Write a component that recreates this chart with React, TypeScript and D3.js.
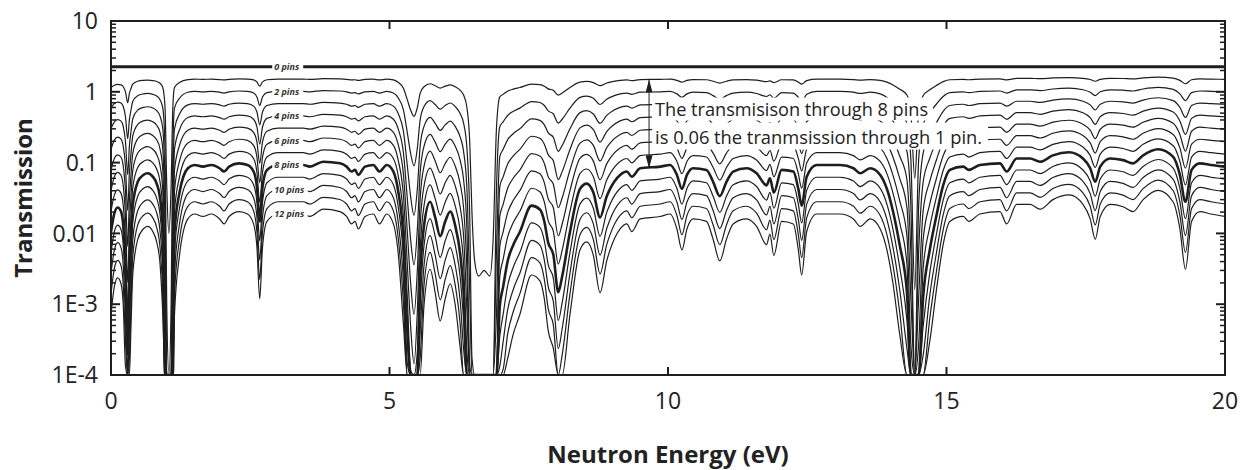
import * as d3 from "d3";

const energy = [
  0.0, 0.06, 0.12, 0.18, 0.22, 0.26, 0.3, 0.33, 0.36, 0.39, 0.48, 0.58, 0.66, 0.75, 0.82, 0.88, 0.93, 0.97,
  1.0, 1.04, 1.08, 1.11, 1.14, 1.23, 1.38, 1.5, 1.65, 1.8, 1.95, 2.03, 2.12, 2.3, 2.45, 2.56, 2.62, 2.67,
  2.72, 2.8, 3.0, 3.2, 3.45, 3.57, 3.81, 4.11, 4.23, 4.32, 4.38, 4.44, 4.56, 4.71, 4.82, 4.95, 5.07, 5.16,
  5.25, 5.32, 5.38, 5.44, 5.5, 5.55, 5.62, 5.73, 5.82, 5.91, 6.0, 6.09, 6.18, 6.27, 6.33, 6.39, 6.44, 6.48,
  6.53, 6.6, 6.7, 6.8, 6.86, 6.92, 6.98, 7.04, 7.12, 7.22, 7.34, 7.55, 7.7, 7.78, 7.85, 7.94, 8.03, 8.1,
  8.24, 8.42, 8.54, 8.66, 8.78, 8.9, 8.96, 9.14, 9.26, 9.35, 9.5, 9.86, 10.04, 10.16, 10.25, 10.34, 10.45,
  10.69, 10.81, 10.93, 11.05, 11.17, 11.41, 11.59, 11.77, 11.83, 11.9, 12.04, 12.25, 12.34, 12.4, 12.49,
  12.67, 13.09, 13.33, 13.45, 13.63, 13.81, 13.93, 14.04, 14.16, 14.29, 14.36, 14.43, 14.5, 14.58, 14.7,
  14.82, 14.94, 15.06, 15.3, 15.4, 15.6, 15.96, 16.08, 16.26, 16.5, 16.68, 16.91, 17.2, 17.45, 17.58,
  17.67, 17.76, 17.94, 18.17, 18.35, 18.53, 18.8, 19.07, 19.19, 19.29, 19.4, 19.55, 19.75, 20.0,
];

// transmission through 1 pin at those energies
const onePin = [
  1.15, 1.24, 1.27, 1.25, 1.18, 1.0, 0.7, 0.95, 1.12, 1.28, 1.41, 1.45, 1.46, 1.44, 1.4, 1.32, 1.15, 0.6,
  0.05, 0.01, 0.05, 0.6, 1.15, 1.35, 1.49, 1.51, 1.5, 1.51, 1.49, 1.47, 1.5, 1.52, 1.51, 1.47, 1.38, 1.2,
  1.38, 1.48, 1.51, 1.51, 1.51, 1.5, 1.53, 1.52, 1.5, 1.47, 1.48, 1.45, 1.5, 1.51, 1.47, 1.51, 1.47, 1.35,
  1.12, 0.77, 0.55, 0.45, 0.6, 0.95, 1.18, 1.3, 1.22, 1.13, 1.2, 1.25, 1.18, 1.05, 0.9, 0.6, 0.2, 0.02,
  0.004, 0.0025, 0.003, 0.0025, 0.008, 0.3, 0.85, 0.92, 1.02, 1.09, 1.15, 1.28, 1.26, 1.2, 1.1, 1.05, 0.9, 0.96,
  1.15, 1.37, 1.4, 1.35, 1.22, 1.33, 1.37, 1.45, 1.47, 1.44, 1.49, 1.5, 1.51, 1.45, 1.37, 1.45, 1.49,
  1.48, 1.41, 1.33, 1.41, 1.47, 1.49, 1.46, 1.39, 1.43, 1.35, 1.48, 1.47, 1.37, 1.28, 1.44,
  1.51, 1.51, 1.49, 1.46, 1.49, 1.45, 1.37, 1.25, 1.09, 0.9, 0.5, 0.06, 0.5, 0.88, 1.07,
  1.23, 1.39, 1.48, 1.5, 1.48, 1.51, 1.52, 1.47, 1.55, 1.55, 1.53, 1.57, 1.59, 1.55, 1.49,
  1.41, 1.5, 1.55, 1.54, 1.52, 1.57, 1.61, 1.56, 1.45, 1.3, 1.48, 1.52, 1.51, 1.5,
];

const openBeam = 2.25; // "0 pins" level
const pinCounts = [0, 1, 2, 3, 4, 5, 6, 7, 8, 9, 10, 11, 12];
const labelledPins = [0, 2, 4, 6, 8, 10, 12];
const xTicks = [0, 5, 10, 15, 20];
const yTicks = [10, 1, 0.1, 0.01, 1e-3, 1e-4];
const yTickLabels = ["10", "1", "0.1", "0.01", "1E-3", "1E-4"];
const noteLines = ["The transmisison through 8 pins", "is 0.06 the tranmsission through 1 pin."];

const W = 1250;
const H = 470;
const left = 111, right = 1225, top = 21, bottom = 375;
const font = "'Open Sans', 'Noto Sans', sans-serif";
const ink = "#1e1e1e";

// n pins in series: each pin multiplies by the single-pin ratio
const pinT = (n: number, i: number) => openBeam * Math.pow(onePin[i] / openBeam, n);
const nearest = (e: number) => d3.leastIndex(energy, (a) => Math.abs(a - e)) as number;

export default function App() {
  const x = d3.scaleLinear([0, 20], [left, right]);
  const y = d3.scaleLog([1e-4, 10], [bottom, top]);

  const line = (n: number) =>
    d3
      .line<number>()
      .x((i) => x(energy[i]))
      .y((i) => y(Math.max(pinT(n, i), 1e-4)))
      .curve(d3.curveMonotoneX)(energy.map((_, i) => i)) as string;

  // minor ticks of the log axis
  const minor: number[] = [];
  for (let d = -4; d < 1; d++) for (let k = 2; k <= 9; k++) minor.push(k * Math.pow(10, d));

  const labelE = 2.93;
  const li = nearest(3.15);

  const arrowE = 9.66;
  const ai = nearest(arrowE);
  const ax = x(arrowE);
  const ay1 = y(pinT(1, ai));
  const ay2 = y(pinT(8, ai));

  return (
    <svg width={W} height={H} style={{ position: "absolute", left: 0, top: 0, background: "#fff" }}>
      <defs>
        <clipPath id="plot">
          <rect x={left} y={top} width={right - left} height={bottom - top} />
        </clipPath>
        <marker id="tip" viewBox="0 0 13 7" refX={13} refY={3.5} markerWidth={13} markerHeight={7}
          markerUnits="userSpaceOnUse" orient="auto-start-reverse">
          <path d="M0,0 L13,3.5 L0,7 z" fill={ink} />
        </marker>
      </defs>

      <g clipPath="url(#plot)" fill="none" stroke={ink} strokeLinejoin="round">
        {pinCounts.map((n) => (
          <path key={n} d={line(n)} strokeWidth={n === 0 ? 3 : n === 8 ? 2.6 : 1.2} />
        ))}
      </g>

      {/* curve labels */}
      {labelledPins.map((n) => {
        const ty = y(pinT(n, li));
        const txt = `${n} pins`;
        return (
          <g key={n}>
            <rect x={x(labelE) - 2} y={ty - 5} width={txt.length * 4.5 + 4} height={10} fill="#fff" />
            <text x={x(labelE)} y={ty} dy="0.35em" fontFamily={font} fontSize={9} fontWeight="bold"
              fontStyle="italic" fill="#333">{txt}</text>
          </g>
        );
      })}

      {/* annotation */}
      <rect x={ax + 3} y={ay1 + 18} width={281} height={23} fill="#fff" />
      <rect x={ax + 3} y={ay1 + 43} width={336} height={27} fill="#fff" />
      <text x={ax + 6} y={ay1 + 36} fontFamily={font} fontSize={18} fill="#222" textLength={273}
        lengthAdjust="spacingAndGlyphs">{noteLines[0]}</text>
      <text x={ax + 6} y={ay1 + 64} fontFamily={font} fontSize={18} fill="#222" textLength={327}
        lengthAdjust="spacingAndGlyphs">{noteLines[1]}</text>
      <line x1={ax} x2={ax} y1={ay1} y2={ay2} stroke={ink} strokeWidth={1}
        markerStart="url(#tip)" markerEnd="url(#tip)" />

      {/* frame and ticks */}
      <rect x={left} y={top} width={right - left} height={bottom - top} fill="none" stroke={ink} strokeWidth={2} />
      {xTicks.slice(1, -1).map((t) => (
        <g key={t} stroke={ink} strokeWidth={2}>
          <line x1={x(t)} x2={x(t)} y1={bottom} y2={bottom - 8} />
          <line x1={x(t)} x2={x(t)} y1={top} y2={top + 8} />
        </g>
      ))}
      {yTicks.map((t) => (
        <g key={t} stroke={ink} strokeWidth={2}>
          <line x1={left} x2={left + 9} y1={y(t)} y2={y(t)} />
          <line x1={right} x2={right - 9} y1={y(t)} y2={y(t)} />
        </g>
      ))}
      {minor.map((t) => (
        <g key={t} stroke={ink} strokeWidth={1.5}>
          <line x1={left} x2={left + 5} y1={y(t)} y2={y(t)} />
          <line x1={right} x2={right - 5} y1={y(t)} y2={y(t)} />
        </g>
      ))}

      {/* tick labels */}
      {xTicks.map((t) => (
        <text key={t} x={x(t)} y={409} textAnchor="middle" fontFamily={font} fontSize={23} fill="#222">{t}</text>
      ))}
      {yTicks.map((t, i) => (
        <text key={t} x={left - 13} y={y(t)} dy="0.36em" textAnchor="end" fontFamily={font} fontSize={23}
          fill="#222">{yTickLabels[i]}</text>
      ))}

      <text x={(left + right) / 2} y={463} textAnchor="middle" fontFamily={font} fontSize={24}
        fontWeight="bold" fill="#222">Neutron Energy (eV)</text>
      <text transform={`translate(32,${(top + bottom) / 2}) rotate(-90)`} textAnchor="middle" fontFamily={font}
        fontSize={24} fontWeight="bold" fill="#222">Transmission</text>
    </svg>
  );
}
